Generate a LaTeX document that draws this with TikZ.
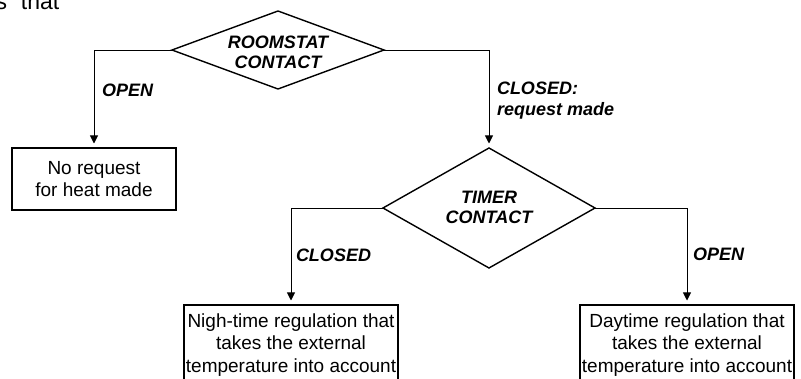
\documentclass[tikz,border=0pt]{standalone}
\usepackage{fontspec}
\setmainfont{Liberation Sans}
\usetikzlibrary{shapes.geometric,arrows.meta}
\begin{document}
\begin{tikzpicture}[x=1pt,y=1pt,
  every node/.style={font=\fontsize{19}{22.5}\selectfont, inner sep=0, outer sep=0},
  dia/.style={diamond, draw, line width=1.4pt},
  dtext/.style={font=\fontsize{18}{20}\selectfont\bfseries\itshape, align=center},
  box/.style={draw, line width=1.6pt, align=center},
  lab/.style={font=\fontsize{18}{21}\selectfont\bfseries\itshape, align=left},
  conn/.style={line width=0.9pt, -{Triangle[width=8pt,length=8pt]}, shorten >=4.5pt},
]
\useasboundingbox (0,0) rectangle (801,-379);
% cropped running text
\node[anchor=base west, font=\fontsize{23}{27}\selectfont] (cut) at (-4.5,-9.5) {s\hspace{14pt}that};
% diamonds
\node[dia, minimum width=212, minimum height=78] (d1) at (278,-50) {};
\node[dtext] (t1) at (278,-52) {ROOMSTAT\\CONTACT};
\node[dia, minimum width=212, minimum height=120] (d2) at (489,-208) {};
\node[dtext] (t2) at (489,-207) {TIMER\\CONTACT};
% boxes
\node[box, minimum width=164, minimum height=62] (b1) at (94,-179) {No request\\for heat made};
\node[box, minimum width=214, minimum height=80] (b2) at (291,-345) {Nigh-time regulation that\\takes the external\\temperature into account};
\node[box, minimum width=214, minimum height=80] (b3) at (687,-345) {Daytime regulation that\\takes the external\\temperature into account};
% connectors
\draw[conn] (d1.west) -| (b1.north);
\draw[conn] (d1.east) -| (d2.north);
\draw[conn] (d2.west) -| (b2.north);
\draw[conn] (d2.east) -| (b3.north);
% labels
\node[lab, anchor=west] (l1) at (102,-90) {OPEN};
\node[lab, anchor=west] (l2) at (497,-100.5) {CLOSED:\\request made};
\node[lab, anchor=west] (l3) at (296,-255) {CLOSED};
\node[lab, anchor=west] (l4) at (693,-254) {OPEN};
\end{tikzpicture}
\end{document}
